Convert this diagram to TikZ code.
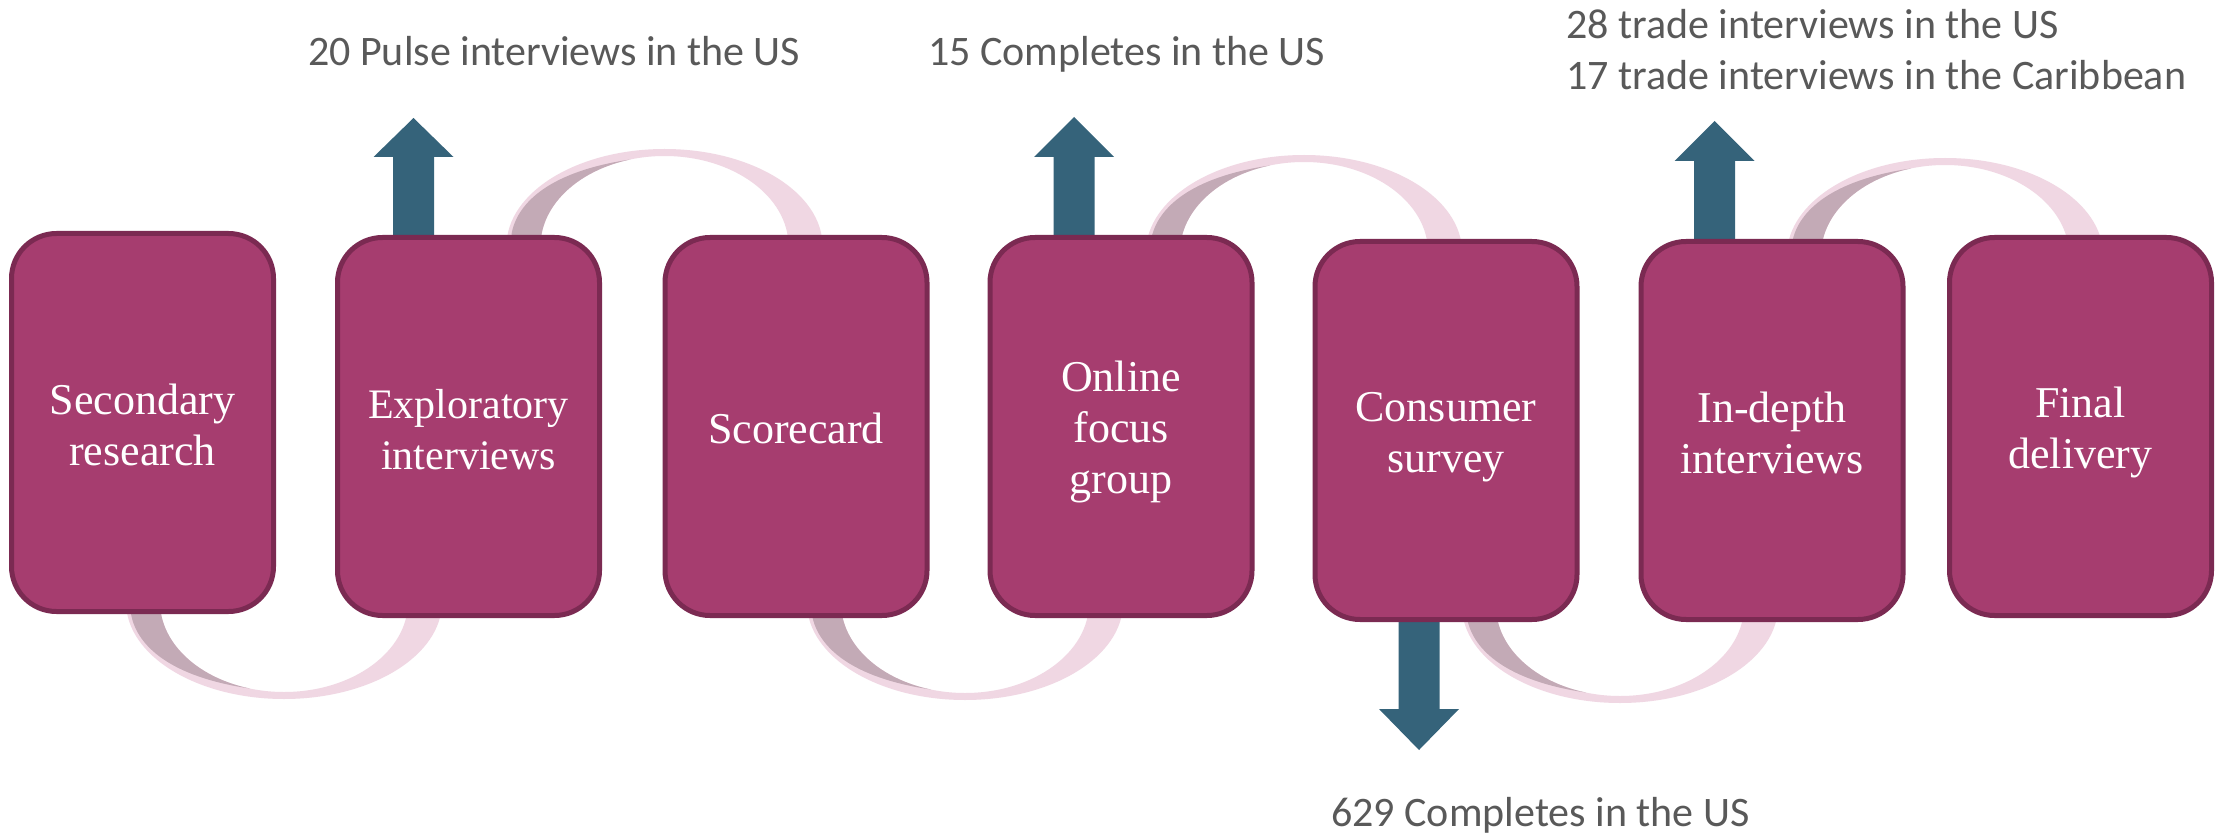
\documentclass[tikz,border=0pt]{standalone}
\usepackage{fontspec}
\setmainfont{Liberation Serif}
\newfontfamily\calibrifont{Carlito}
\definecolor{boxfill}{HTML}{A63D6F}
\definecolor{boxline}{HTML}{7B2A52}
\definecolor{arrowblue}{HTML}{35637A}
\definecolor{ribbonlight}{HTML}{F0D7E3}
\definecolor{ribbondark}{HTML}{C3AAB6}
\definecolor{labelgray}{HTML}{595959}
\newcommand\boxstrut{\rule[-7.5pt]{0pt}{49pt}}
\newcommand\labstrut{\rule[-12pt]{0pt}{51pt}}
% ribbon loop: centre x, centre y, direction (-1 up, 1 down), cut distance from centre
\newcommand\ribbonloop[4]{%
  \begin{scope}[shift={(#1,#2)},yscale=#3]
    \clip (-200,#4) rectangle (200,150);
    \fill[ribbonlight,even odd rule] (0,0) ellipse[x radius=158,y radius=97]
                                     (0,0) ellipse[x radius=124,y radius=90];
    \fill[ribbondark] (-153,0) -- (-153,12) .. controls (-147,45) and (-112,75) .. (106:124 and 90)
       arc[start angle=106,end angle=190,x radius=124,y radius=90] -- cycle;
  \end{scope}}
% block arrow: x, tip y, head base y, shaft end y
\newcommand\blockarrow[4]{%
  \fill[arrowblue] (#1-20.5,#4) -- (#1-20.5,#3) -- (#1-40,#3) -- (#1,#2)
     -- (#1+40,#3) -- (#1+20.5,#3) -- (#1+20.5,#4) -- cycle;}
\begin{document}
\begin{tikzpicture}[x=1pt,y=-1pt,
  stepbox/.style={draw=boxline,line width=5pt,fill=boxfill,rounded corners=45pt,
     minimum width=262pt,minimum height=378pt,inner sep=0pt,align=center,
     text=white,font=\fontsize{44}{51}\selectfont},
  lab/.style={anchor=north west,inner sep=0pt,align=left,text=labelgray,
     font=\calibrifont\fontsize{42}{51}\selectfont}]
\useasboundingbox[fill=white] (0,0) rectangle (2227,834);
% ribbons
\ribbonloop{664.5}{246}{-1}{11}
\ribbonloop{1304}{252}{-1}{13}
\ribbonloop{1945}{255}{-1}{16}
\ribbonloop{284}{602}{1}{12}
\ribbonloop{965}{603}{1}{15}
\ribbonloop{1620}{606}{1}{16}
% block arrows
\blockarrow{413.5}{118}{157}{245}
\blockarrow{1074}{117}{157}{245}
\blockarrow{1714.5}{121}{161}{249}
\blockarrow{1419}{750}{709}{612}
% boxes
\node[stepbox] (b1) at (142.5,422.5) {\boxstrut Secondary\\\boxstrut research};
\node[stepbox,font=\fontsize{42}{51}\selectfont] (b2) at (468.5,426.5) {\boxstrut Exploratory\\\boxstrut interviews};
\node[stepbox] (b3) at (796,426.5) {\boxstrut Scorecard};
\node[stepbox] (b4) at (1121,426.5) {\boxstrut Online\\\boxstrut focus\\\boxstrut group};
\node[stepbox] (b5) at (1446,430.5) {\boxstrut Consumer\\\boxstrut survey};
\node[stepbox] (b6) at (1772,430.5) {\boxstrut In-depth\\\boxstrut interviews};
\node[stepbox] (b7) at (2080.5,426.5) {\boxstrut Final\\\boxstrut delivery};
% labels
\node[lab] (l1) at (308,26) {\labstrut 20 Pulse interviews in the US};
\node[lab] (l2) at (928,26) {\labstrut 15 Completes in the US};
\node[lab] (l3) at (1566,-1) {\labstrut 28 trade interviews in the US\\\labstrut 17 trade interviews in the Caribbean};
\node[lab] (l4) at (1331,787) {\labstrut 629 Completes in the US};
\end{tikzpicture}
\end{document}
